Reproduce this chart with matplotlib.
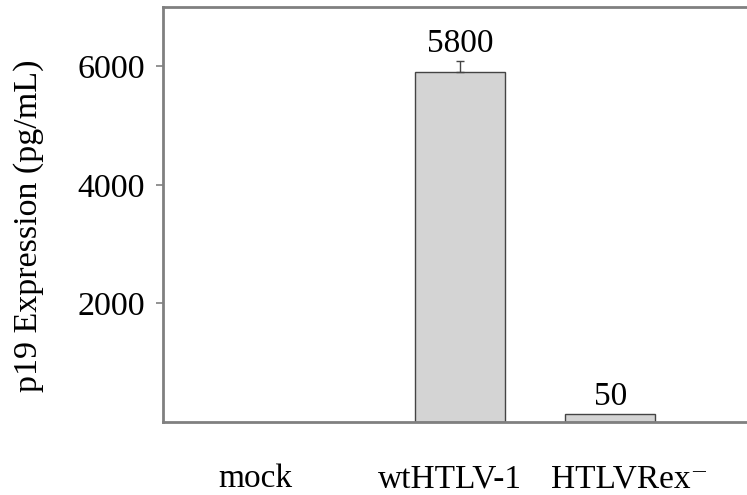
import numpy as np
import matplotlib.pyplot as plt

plt.rcParams["font.family"] = ["Liberation Serif", "DejaVu Serif"]

categories = ["mock", "wtHTLV-1", "HTLVRex\u207b"]
values = [0, 5900, 140]
errors = [0, 200, 0]
bar_labels = ["", "5800", "50"]
yticks = [2000, 4000, 6000]

bar_pos = [0.59, 1.98, 2.98]
label_pos = [0.613, 1.913, 3.107]

fg = plt.figure(figsize=(7.47, 4.95), dpi=100)
ax = fg.add_axes([0.218, 0.1475, 0.782, 0.838])

ax.bar(bar_pos[1:], values[1:], width=0.6, color="#d4d4d4",
       edgecolor="#444444", linewidth=1.0, zorder=2)
ax.errorbar(bar_pos[1], values[1], yerr=[[0], [errors[1]]], fmt="none",
            ecolor="#444444", elinewidth=1.0, capsize=3, capthick=1.0, zorder=3)

for p, v, e, lab in zip(bar_pos, values, errors, bar_labels):
    if lab:
        ax.text(p, v + e + 30, lab, ha="center", va="bottom", fontsize=24)

ax.set_xlim(0, 3.89)
ax.set_ylim(0, 7000)
ax.set_xticks(label_pos)
ax.set_xticklabels(categories, fontsize=24)
ax.tick_params(axis="x", length=0, pad=30)
ax.set_yticks(yticks)
ax.set_yticklabels([str(t) for t in yticks], fontsize=24.5)
ax.tick_params(axis="y", length=5, width=1.2, color="#808080", pad=8)
ax.set_ylabel("p19 Expression (pg/mL)", fontsize=24.5)
ax.yaxis.set_label_coords(-0.203, 0.473)

for s in ["left", "top", "bottom"]:
    ax.spines[s].set_color("#808080")
    ax.spines[s].set_linewidth(2)
ax.spines["right"].set_visible(False)

fg.savefig("out.png", dpi=100)
